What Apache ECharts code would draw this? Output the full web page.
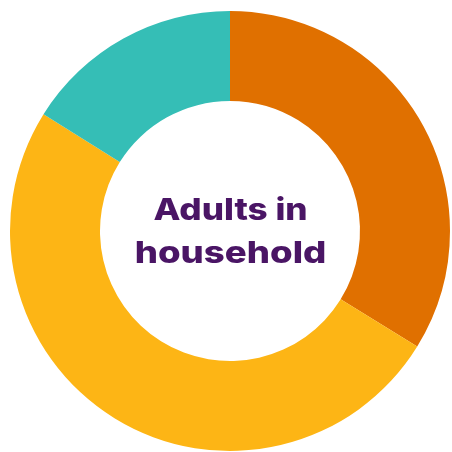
<!DOCTYPE html>
<html>
<head>
<meta charset="utf-8">
<script src="https://cdn.jsdelivr.net/npm/echarts@6/dist/echarts.min.js"></script>
<style>
  html, body { margin: 0; padding: 0; background: #ffffff; }
  #chart { width: 452px; height: 452px; }
</style>
</head>
<body>
<div id="chart"></div>
<script>
// Share of households by number of adults
const categories = ['Two adults', 'One adult', 'Three or more adults'];
const shares = [33.8, 50.1, 16.1];
const colors = ['#E07000', '#FDB515', '#35BEB6'];
const centreLines = ['Adults in', 'household'];

const chart = echarts.init(document.getElementById('chart'), null, { renderer: 'canvas' });

// Centre caption: a wide, heavy face, drawn a little stretched horizontally
const titleFont = {
  fontFamily: 'Inter',
  fontWeight: 800,
  fontSize: 30,
  fill: '#4A1565',
  align: 'center',
  verticalAlign: 'middle'
};
const lineY = [210.5, 253.5];
const lineStretch = [1.17, 1.22];

chart.setOption({
  animation: false,
  color: colors,
  graphic: centreLines.map((line, i) => ({
    type: 'text',
    x: 230.5,
    y: lineY[i],
    scaleX: lineStretch[i],
    silent: true,
    style: Object.assign({ text: line }, titleFont)
  })),
  series: [{
    type: 'pie',
    center: [230, 231],
    radius: [130, 220],
    startAngle: 90,
    clockwise: true,
    label: { show: false },
    labelLine: { show: false },
    emphasis: { disabled: true },
    itemStyle: { borderWidth: 0 },
    data: categories.map((name, i) => ({ name, value: shares[i] }))
  }]
});
</script>
</body>
</html>
